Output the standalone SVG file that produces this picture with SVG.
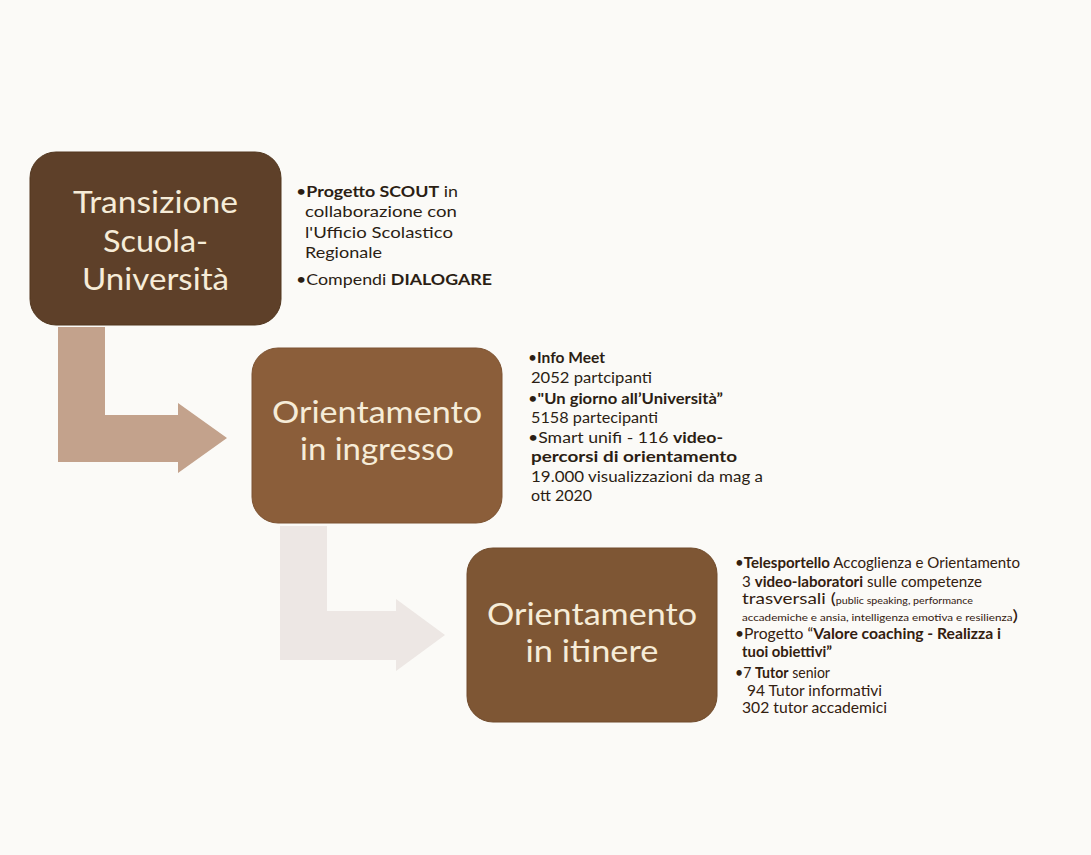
<svg xmlns="http://www.w3.org/2000/svg" width="1091" height="855" viewBox="0 0 1091 855">
  <style>
    .title { font-family: Lato, "Liberation Sans", sans-serif; font-size: 30.8px; fill: #f6ecd8; text-anchor: middle; }
    .side { font-family: Lato, "Liberation Sans", sans-serif; font-size: 16px; fill: #2b1e14; }
    .side3 { font-family: Lato, "Liberation Sans", sans-serif; font-size: 15px; fill: #33200f; }
    .b { font-weight: bold; }
    .sm { font-size: 8.5px; }
    .box { stroke-width: 1; }
  </style>
  <rect x="0" y="0" width="1091" height="855" fill="#fbfaf7"/>

  <g id="connectors">
    <path id="arrow1" d="M58,327 H105 V415 H178 V403 L227,438 L178,473 V462 H58 Z" fill="#c3a28c"/>
    <path id="arrow2" d="M280,526 H327 V611 H396 V599 L445,635 L396,671 V660 H280 Z" fill="#ede7e4"/>
  </g>

  <g id="node-transizione">
    <rect class="box" x="30" y="152" width="251" height="173" rx="26" fill="#5e4029" stroke="#52371f"/>
    <text class="title" x="155.5" y="213" textLength="165" lengthAdjust="spacingAndGlyphs">Transizione</text>
    <text class="title" x="155.5" y="252" textLength="105" lengthAdjust="spacingAndGlyphs">Scuola-</text>
    <text class="title" x="155.5" y="290" textLength="147" lengthAdjust="spacingAndGlyphs">Università</text>
    <text class="side" x="296" y="197" textLength="162" lengthAdjust="spacingAndGlyphs">•<tspan class="b">Progetto SCOUT</tspan> in</text>
    <text class="side" x="305" y="217" textLength="152" lengthAdjust="spacingAndGlyphs">collaborazione con</text>
    <text class="side" x="305" y="238" textLength="148" lengthAdjust="spacingAndGlyphs">l'Ufficio Scolastico</text>
    <text class="side" x="305" y="258" textLength="77" lengthAdjust="spacingAndGlyphs">Regionale</text>
    <text class="side" x="296" y="285" textLength="196" lengthAdjust="spacingAndGlyphs">•Compendi <tspan class="b">DIALOGARE</tspan></text>
  </g>

  <g id="node-ingresso">
    <rect class="box" x="252" y="348" width="250" height="175" rx="26" fill="#8b5e3a" stroke="#7d5332"/>
    <text class="title" x="377" y="423" textLength="210" lengthAdjust="spacingAndGlyphs">Orientamento</text>
    <text class="title" x="377" y="460" textLength="154" lengthAdjust="spacingAndGlyphs">in ingresso</text>
    <text class="side" x="528" y="363" textLength="77" lengthAdjust="spacingAndGlyphs">•<tspan class="b">Info Meet</tspan></text>
    <text class="side" x="531" y="383" textLength="121" lengthAdjust="spacingAndGlyphs">2052 partcipanti</text>
    <text class="side" x="528" y="404" textLength="195" lengthAdjust="spacingAndGlyphs">•<tspan class="b">"Un giorno all’Università”</tspan></text>
    <text class="side" x="531" y="423" textLength="127" lengthAdjust="spacingAndGlyphs">5158 partecipanti</text>
    <text class="side" x="528" y="443" textLength="195" lengthAdjust="spacingAndGlyphs">•Smart unifi - 116 <tspan class="b">video-</tspan></text>
    <text class="side b" x="531" y="462" textLength="206" lengthAdjust="spacingAndGlyphs">percorsi di orientamento</text>
    <text class="side" x="531" y="482" textLength="232" lengthAdjust="spacingAndGlyphs">19.000 visualizzazioni da mag a</text>
    <text class="side" x="531" y="501" textLength="61" lengthAdjust="spacingAndGlyphs">ott 2020</text>
  </g>

  <g id="node-itinere">
    <rect class="box" x="467" y="548" width="250" height="174" rx="26" fill="#7e5634" stroke="#704b2c"/>
    <text class="title" x="592" y="625" textLength="210" lengthAdjust="spacingAndGlyphs">Orientamento</text>
    <text class="title" x="592" y="662" textLength="133" lengthAdjust="spacingAndGlyphs">in itinere</text>
    <text class="side3" x="735" y="568" textLength="285" lengthAdjust="spacingAndGlyphs">•<tspan class="b">Telesportello</tspan> Accoglienza e Orientamento</text>
    <text class="side3" x="742" y="587" textLength="240" lengthAdjust="spacingAndGlyphs">3 <tspan class="b">video-laboratori</tspan> sulle competenze</text>
    <text class="side3" x="742" y="604" textLength="231" lengthAdjust="spacingAndGlyphs">trasversali (<tspan class="sm">public speaking, performance</tspan></text>
    <text class="side3" x="742" y="621" textLength="276" lengthAdjust="spacingAndGlyphs"><tspan class="sm">accademiche e ansia, intelligenza emotiva e resilienza</tspan>)</text>
    <text class="side3" x="735" y="639" textLength="266" lengthAdjust="spacingAndGlyphs">•Progetto “<tspan class="b">Valore coaching - Realizza i</tspan></text>
    <text class="side3 b" x="742" y="657" textLength="90" lengthAdjust="spacingAndGlyphs">tuoi obiettivi”</text>
    <text class="side3" x="735" y="678" textLength="95" lengthAdjust="spacingAndGlyphs">•7 <tspan class="b">Tutor</tspan> senior</text>
    <text class="side3" x="747" y="696" textLength="135" lengthAdjust="spacingAndGlyphs">94 Tutor informativi</text>
    <text class="side3" x="742" y="713" textLength="145" lengthAdjust="spacingAndGlyphs">302 tutor accademici</text>
  </g>
</svg>
